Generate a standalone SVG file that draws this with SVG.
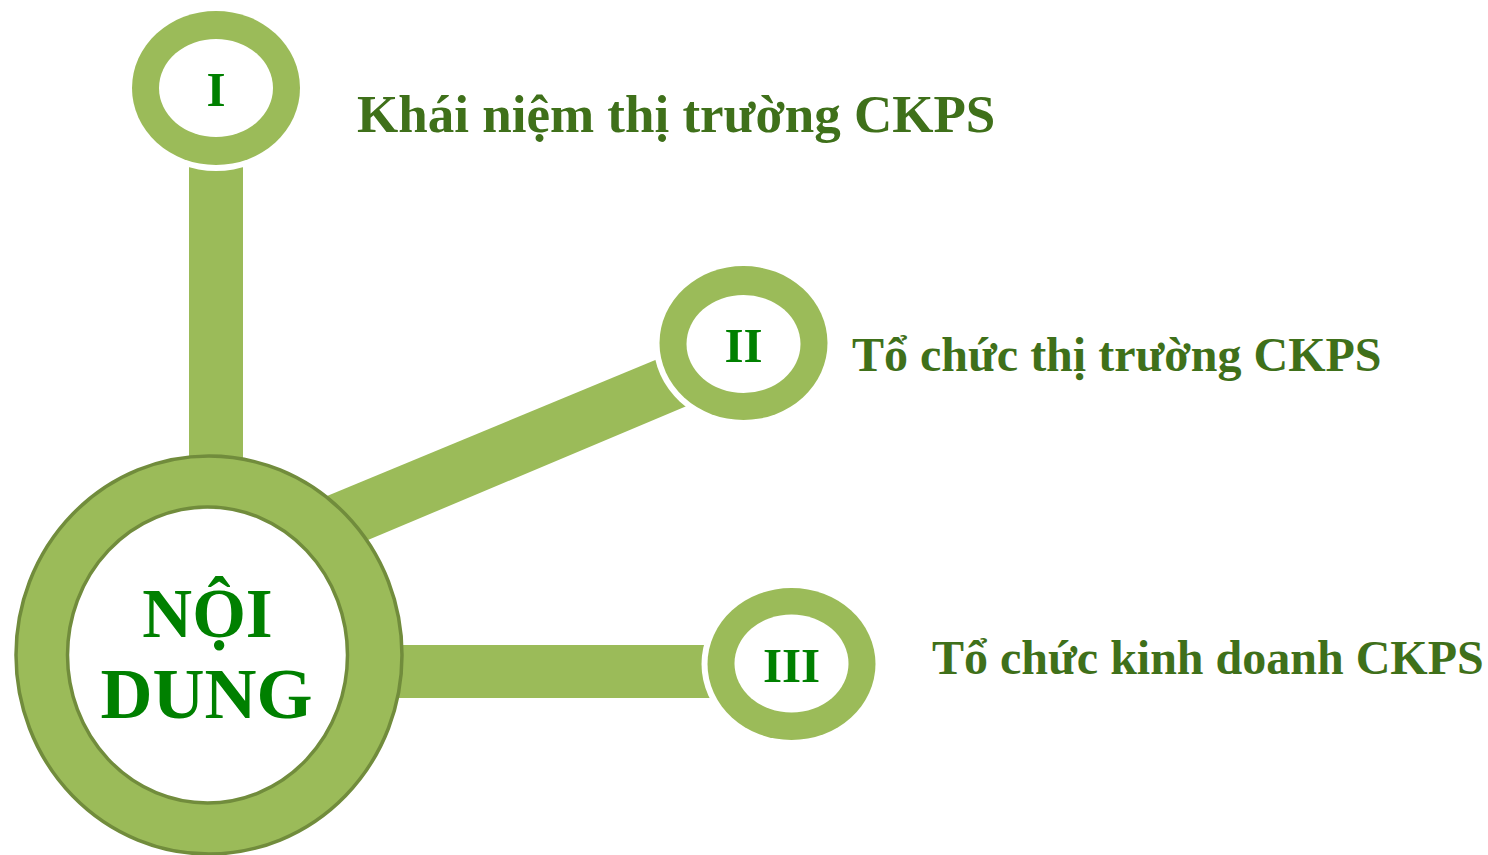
<svg xmlns="http://www.w3.org/2000/svg" width="1488" height="855" viewBox="0 0 1488 855">
<style>
.bar{fill:#9bbb59}
.gap{fill:#ffffff}
.ring{fill:#9bbb59}
.hole{fill:#ffffff}
.num{font-family:"Liberation Serif",serif;font-weight:bold;fill:#008000;text-anchor:middle}
.lbl{font-family:"Liberation Serif",serif;font-weight:bold;fill:#3f701a}
.core{font-family:"Liberation Serif",serif;font-weight:bold;fill:#008000;text-anchor:middle}
</style>
<rect width="1488" height="855" fill="#ffffff"/>
<g id="connectors">
<rect class="bar" x="189" y="100" width="54" height="460"/>
<polygon class="bar" points="270,519.6 700,341.5 720,392 290,572.8"/>
<rect class="bar" x="300" y="645" width="430" height="53"/>
</g>
<g id="node-I">
<ellipse class="gap" cx="216" cy="88" rx="90" ry="83"/>
<ellipse class="ring" cx="216" cy="88" rx="84" ry="77"/>
<ellipse class="hole" cx="216" cy="88" rx="57" ry="49"/>
<text class="num" x="216" y="106" font-size="49">I</text>
<text class="lbl" x="357" y="132" font-size="53">Khái niệm thị trường CKPS</text>
</g>
<g id="node-II">
<ellipse class="gap" cx="743.5" cy="343" rx="90" ry="83"/>
<ellipse class="ring" cx="743.5" cy="343" rx="84" ry="77"/>
<ellipse class="hole" cx="743.5" cy="344" rx="57" ry="49"/>
<text class="num" x="743.5" y="362" font-size="49">II</text>
<text class="lbl" x="852" y="371" font-size="48">Tổ chức thị trường CKPS</text>
</g>
<g id="node-III">
<ellipse class="gap" cx="791.5" cy="664" rx="90" ry="82"/>
<ellipse class="ring" cx="791.5" cy="664" rx="84" ry="76"/>
<ellipse class="hole" cx="791.5" cy="663.5" rx="57" ry="49"/>
<text class="num" x="791.5" y="682" font-size="49">III</text>
<text class="lbl" x="932" y="674" font-size="48">Tổ chức kinh doanh CKPS</text>
</g>
<g id="node-center">
<ellipse cx="209" cy="655" rx="193" ry="199" fill="#9bbb59" stroke="#718c3c" stroke-width="3.5"/>
<ellipse cx="207.5" cy="655" rx="140" ry="148" fill="#ffffff" stroke="#718c3c" stroke-width="3.5"/>
<text class="core" x="207.5" y="637" font-size="69">NỘI</text>
<text class="core" x="206.5" y="718" font-size="72">DUNG</text>
</g>
</svg>
